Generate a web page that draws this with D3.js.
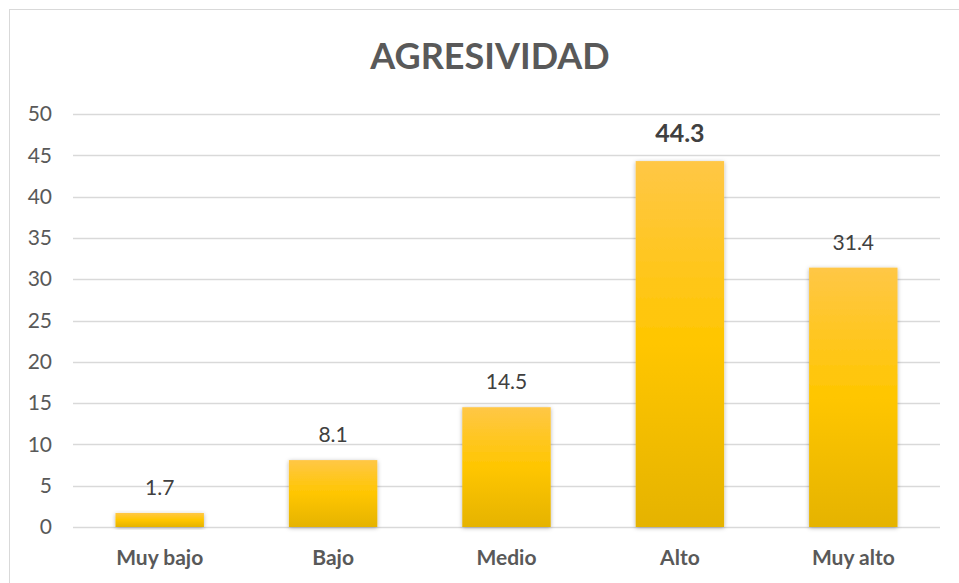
<!DOCTYPE html>
<html>
<head>
<meta charset="utf-8">
<script src="https://cdn.jsdelivr.net/npm/d3@7"></script>
<style>
  body { margin: 0; background: #fff; }
  text { font-family: Lato, "Open Sans", sans-serif; }
</style>
</head>
<body>
<div id="chart"></div>
<script>
// Chart data
const categories = ['Muy bajo', 'Bajo', 'Medio', 'Alto', 'Muy alto'];
const values = [1.7, 8.1, 14.5, 44.3, 31.4];
const yTicks = [0, 5, 10, 15, 20, 25, 30, 35, 40, 45, 50];

const width = 959, height = 583;
const margin = { top: 114, right: 19, bottom: 56, left: 73 };

const svg = d3.select('#chart').append('svg')
    .attr('width', width)
    .attr('height', height);

// chart area border
svg.append('rect')
    .attr('x', 9.5).attr('y', 9.5)
    .attr('width', 960).attr('height', 600)
    .attr('fill', '#fff')
    .attr('stroke', '#d9d9d9');

const defs = svg.append('defs');
const grad = defs.append('linearGradient')
    .attr('id', 'barGrad')
    .attr('x1', 0).attr('y1', 0).attr('x2', 0).attr('y2', 1);
grad.append('stop').attr('offset', '0%').attr('stop-color', '#ffc746');
grad.append('stop').attr('offset', '50%').attr('stop-color', '#ffc600');
grad.append('stop').attr('offset', '100%').attr('stop-color', '#e5b300');

const shadow = defs.append('filter').attr('id', 'shadow')
    .attr('x', '-20%').attr('y', '-20%').attr('width', '140%').attr('height', '140%');
shadow.append('feDropShadow')
    .attr('dx', 0).attr('dy', 1).attr('stdDeviation', 2)
    .attr('flood-color', '#000').attr('flood-opacity', 0.3);

const x = d3.scaleBand()
    .domain(categories)
    .range([margin.left, width - margin.right])
    .paddingInner(0.49)
    .paddingOuter(0.245);

const y = d3.scaleLinear()
    .domain([0, 50])
    .range([height - margin.bottom, margin.top]);

// Title
svg.append('text')
    .attr('x', 490).attr('y', 69)
    .attr('text-anchor', 'middle')
    .attr('font-size', '36px')
    .attr('font-weight', 'bold')
    .attr('fill', '#595959')
    .text('AGRESIVIDAD');

// Gridlines
svg.append('g')
    .selectAll('line')
    .data(yTicks)
    .enter().append('line')
    .attr('x1', margin.left).attr('x2', width - margin.right)
    .attr('y1', d => Math.round(y(d)) + 0.5)
    .attr('y2', d => Math.round(y(d)) + 0.5)
    .attr('stroke', '#d9d9d9')
    .attr('stroke-width', 1.3);

// Y axis labels
const yAxis = d3.axisLeft(y).tickValues(yTicks).tickSize(0).tickPadding(0);
const yg = svg.append('g')
    .attr('transform', `translate(52,0)`)
    .call(yAxis);
yg.select('.domain').remove();
yg.selectAll('text')
    .attr('font-size', '21px')
    .attr('fill', '#595959')
    .attr('font-family', 'Lato, "Open Sans", sans-serif');

// Bars
svg.append('g')
    .selectAll('rect')
    .data(values)
    .enter().append('rect')
    .attr('x', (d, i) => x(categories[i]))
    .attr('y', d => y(d))
    .attr('width', x.bandwidth())
    .attr('height', d => y(0) - y(d))
    .attr('fill', 'url(#barGrad)')
    .attr('filter', 'url(#shadow)');

// Data labels (largest value in bold)
const maxVal = d3.max(values);
svg.append('g')
    .selectAll('text')
    .data(values)
    .enter().append('text')
    .attr('x', (d, i) => x(categories[i]) + x.bandwidth() / 2)
    .attr('y', d => y(d) - (d === maxVal ? 19 : 18))
    .attr('text-anchor', 'middle')
    .attr('font-size', d => d === maxVal ? '25px' : '21px')
    .attr('font-weight', d => d === maxVal ? 'bold' : 'normal')
    .attr('fill', '#404040')
    .text(d => d.toFixed(1));

// X axis labels
const xAxis = d3.axisBottom(x).tickSize(0).tickPadding(0);
const xg = svg.append('g')
    .attr('transform', `translate(0,${height - 33})`)
    .call(xAxis);
xg.select('.domain').remove();
xg.selectAll('text')
    .attr('font-size', '21px')
    .attr('font-weight', 'bold')
    .attr('fill', '#595959')
    .attr('font-family', 'Lato, "Open Sans", sans-serif');
</script>
</body>
</html>
